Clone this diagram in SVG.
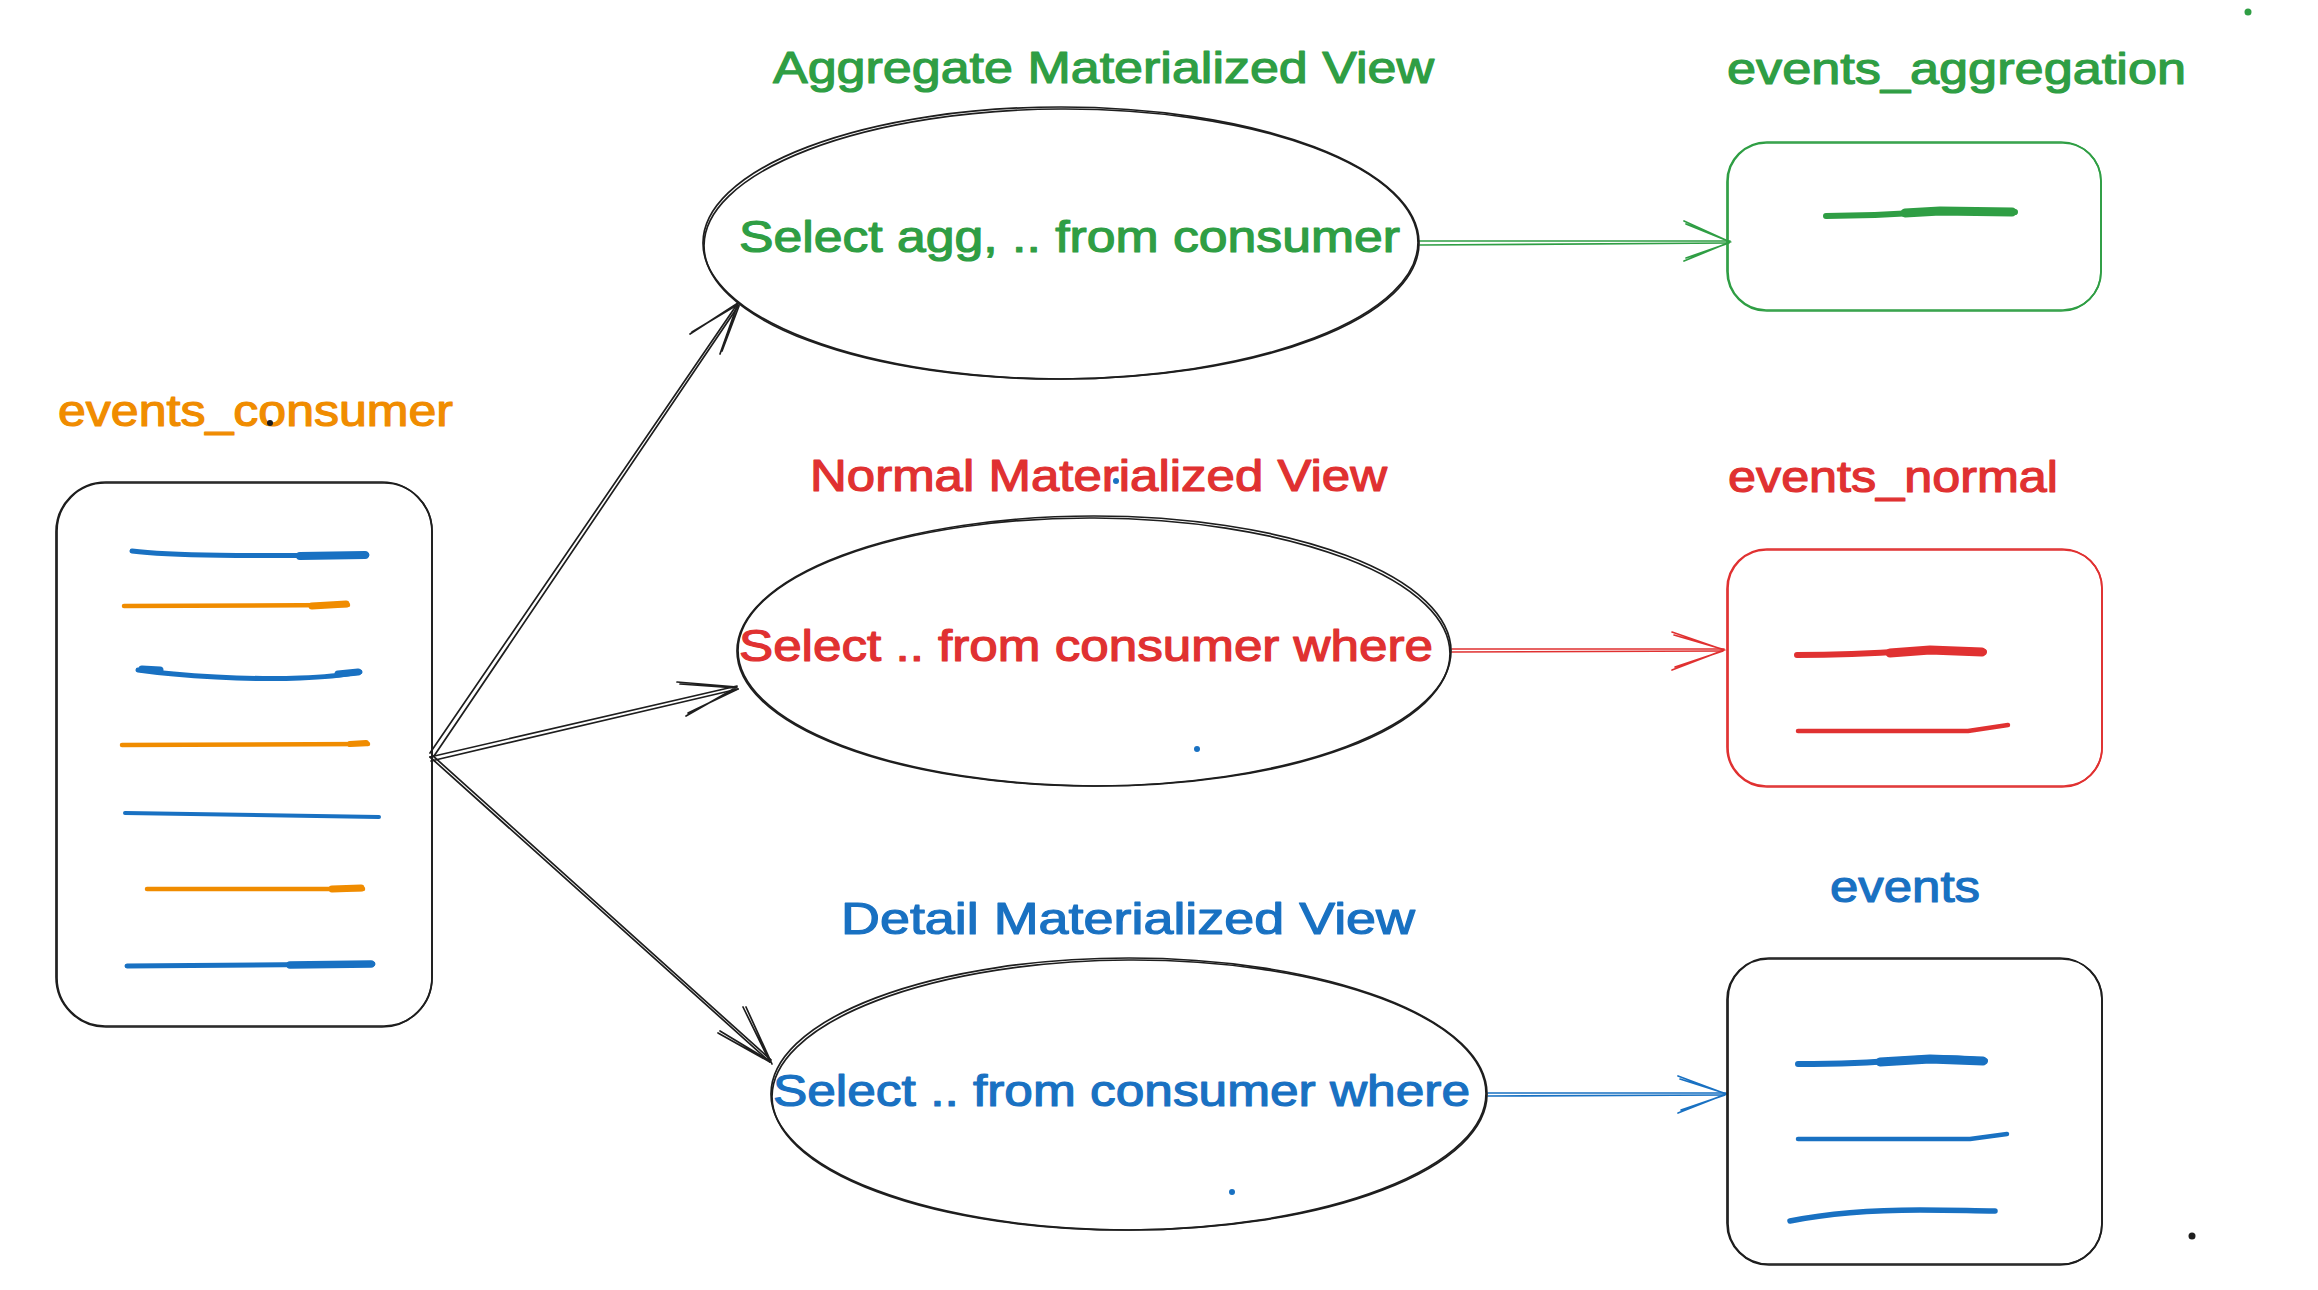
<svg xmlns="http://www.w3.org/2000/svg" width="2318" height="1290" viewBox="0 0 2318 1290">
<style>
  .bg{fill:#ffffff}
  .sk{fill:none;stroke:#1e1e1e;stroke-width:1.7;stroke-linecap:round;stroke-linejoin:round}
  .skg{fill:none;stroke:#2f9e44;stroke-width:1.7;stroke-linecap:round}
  .skr{fill:none;stroke:#e03131;stroke-width:1.7;stroke-linecap:round}
  .skb{fill:none;stroke:#1971c2;stroke-width:1.7;stroke-linecap:round}
  .fl{fill:none;stroke-linecap:round;stroke-linejoin:round}
  .o{stroke:#f08c00}
  .b{stroke:#1971c2}
  .g{stroke:#2f9e44}
  .r{stroke:#e03131}
  .t{font-family:"Liberation Sans","Noto Sans",sans-serif;font-size:44px;stroke-width:1.2;stroke-linejoin:round}
  .tg{fill:#2f9e44;stroke:#2f9e44}
  .tr{fill:#e03131;stroke:#e03131}
  .tb{fill:#1971c2;stroke:#1971c2}
  .to{fill:#f08c00;stroke:#f08c00}
</style>
<rect class="bg" x="0" y="0" width="2318" height="1290"/>

<g id="connectors">
  <!-- consumer to aggregate MV -->
  <path class="sk" d="M430,753 L738,303 M434,756 L739,305"/>
  <path class="sk" d="M690,334 L738,303 L720,354 M692,332 L737,305 M722,351 L739,306"/>
  <!-- consumer to normal MV -->
  <path class="sk" d="M430,757 L737,686 M431,761 L738,689"/>
  <path class="sk" d="M677,682 L737,687 L686,716 M680,684 L736,688 M688,713 L738,689"/>
  <!-- consumer to detail MV -->
  <path class="sk" d="M430,757 L770,1062 M432,755 L771,1060"/>
  <path class="sk" d="M718,1033 L770,1062 L743,1007 M720,1031 L768,1060 M746,1007 L772,1064"/>
  <!-- aggregate MV to events_aggregation -->
  <path class="skg" d="M1418,241 L1730,241 M1420,245 L1728,243"/>
  <path class="skg" d="M1684,221 L1730,242 L1684,261 M1686,224 L1728,241 M1686,258 L1729,243"/>
  <!-- normal MV to events_normal -->
  <path class="skr" d="M1452,649 L1724,649 M1452,652 L1722,651"/>
  <path class="skr" d="M1672,632 L1724,650 L1672,670 M1674,635 L1722,649 M1675,667 L1723,651"/>
  <!-- detail MV to events -->
  <path class="skb" d="M1488,1093 L1726,1093 M1488,1096 L1724,1095"/>
  <path class="skb" d="M1678,1076 L1726,1094 L1678,1113 M1680,1079 L1724,1093 M1681,1110 L1725,1095"/>
</g>

<g id="events_consumer">
  <text class="t to" x="58" y="426" textLength="395" lengthAdjust="spacingAndGlyphs">events_consumer</text>
  <rect class="sk" x="56" y="482" width="376" height="545" rx="50" ry="50"/>
  <rect class="sk" x="57" y="483" width="375" height="543" rx="48" ry="48"/>
  <path class="fl b" stroke-width="5" d="M132,551 C170,556 250,556 367,555"/>
  <path class="fl b" stroke-width="8" d="M300,556 L365,555"/>
  <path class="fl o" stroke-width="4.5" d="M124,606 L348,605"/>
  <path class="fl o" stroke-width="7" d="M312,606 L346,604"/>
  <path class="fl b" stroke-width="5" d="M138,670 C180,676 250,680 300,678 S350,673 360,672"/>
  <path class="fl b" stroke-width="7" d="M142,669 L160,670 M338,674 L358,672"/>
  <path class="fl o" stroke-width="4.5" d="M122,745 L368,744"/>
  <path class="fl o" stroke-width="6" d="M350,744 L366,743"/>
  <path class="fl b" stroke-width="4" d="M125,813 L379,817"/>
  <path class="fl o" stroke-width="4.5" d="M147,889 L363,889"/>
  <path class="fl o" stroke-width="7" d="M332,889 L361,888"/>
  <path class="fl b" stroke-width="5" d="M127,966 L373,964"/>
  <path class="fl b" stroke-width="7.5" d="M290,965 L371,964"/>
</g>

<g id="aggregate_mv">
  <text class="t tg" x="773" y="83" textLength="661" lengthAdjust="spacingAndGlyphs">Aggregate Materialized View</text>
  <ellipse class="sk" cx="1061" cy="243" rx="358" ry="136"/>
  <ellipse class="sk" cx="1061" cy="244" rx="357" ry="135" transform="rotate(-0.3 1061 244)"/>
  <text class="t tg" x="739" y="252" textLength="661" lengthAdjust="spacingAndGlyphs">Select agg, .. from consumer</text>
</g>

<g id="normal_mv">
  <text class="t tr" x="810" y="491" textLength="577" lengthAdjust="spacingAndGlyphs">Normal Materialized View</text>
  <ellipse class="sk" cx="1094" cy="651" rx="357" ry="135"/>
  <ellipse class="sk" cx="1094" cy="652" rx="356" ry="134" transform="rotate(0.3 1094 652)"/>
  <text class="t tr" x="739" y="661" textLength="694" lengthAdjust="spacingAndGlyphs">Select .. from consumer where</text>
</g>

<g id="detail_mv">
  <text class="t tb" x="841" y="934" textLength="574" lengthAdjust="spacingAndGlyphs">Detail Materialized View</text>
  <ellipse class="sk" cx="1129" cy="1094" rx="358" ry="136"/>
  <ellipse class="sk" cx="1129" cy="1095" rx="357" ry="135" transform="rotate(-0.3 1129 1095)"/>
  <text class="t tb" x="773" y="1106" textLength="697" lengthAdjust="spacingAndGlyphs">Select .. from consumer where</text>
</g>

<g id="events_aggregation">
  <text class="t tg" x="1727" y="84" textLength="459" lengthAdjust="spacingAndGlyphs">events_aggregation</text>
  <rect class="skg" x="1727" y="142" width="374" height="169" rx="40" ry="40"/>
  <rect class="skg" x="1728" y="143" width="373" height="167" rx="38" ry="38"/>
  <path class="fl g" stroke-width="6" d="M1826,216 C1880,216 1900,214 1930,212 S2000,211 2015,212"/>
  <path class="fl g" stroke-width="9" d="M1905,213 L1940,211 L2012,212"/>
</g>

<g id="events_normal">
  <text class="t tr" x="1728" y="492" textLength="330" lengthAdjust="spacingAndGlyphs">events_normal</text>
  <rect class="skr" x="1727" y="549" width="375" height="238" rx="40" ry="40"/>
  <rect class="skr" x="1728" y="550" width="374" height="236" rx="38" ry="38"/>
  <path class="fl r" stroke-width="6" d="M1797,655 C1850,655 1880,653 1910,651 S1970,650 1984,652"/>
  <path class="fl r" stroke-width="9" d="M1890,653 L1930,650 L1982,652"/>
  <path class="fl r" stroke-width="4.5" d="M1798,731 L1968,731 L2008,725"/>
</g>

<g id="events">
  <text class="t tb" x="1830" y="902" textLength="150" lengthAdjust="spacingAndGlyphs">events</text>
  <rect class="sk" x="1727" y="958" width="375" height="307" rx="42" ry="42"/>
  <rect class="sk" x="1728" y="959" width="374" height="305" rx="40" ry="40"/>
  <path class="fl b" stroke-width="6" d="M1798,1064 C1850,1064 1870,1063 1900,1060 S1965,1058 1985,1061"/>
  <path class="fl b" stroke-width="9" d="M1880,1062 L1930,1059 L1983,1061"/>
  <path class="fl b" stroke-width="4.5" d="M1798,1139 L1970,1139 L2007,1134"/>
  <path class="fl b" stroke-width="5.5" d="M1790,1221 C1830,1213 1880,1210 1920,1210 S1970,1211 1995,1211"/>
</g>

<g id="dots">
  <circle cx="270" cy="423" r="3" fill="#1e1e1e"/>
  <circle cx="1116" cy="481" r="3" fill="#1971c2"/>
  <circle cx="1197" cy="749" r="3" fill="#1971c2"/>
  <circle cx="1232" cy="1192" r="3" fill="#1971c2"/>
  <circle cx="2192" cy="1236" r="3.5" fill="#1e1e1e"/>
  <circle cx="2248" cy="12" r="3.5" fill="#2f9e44"/>
</g>
</svg>
